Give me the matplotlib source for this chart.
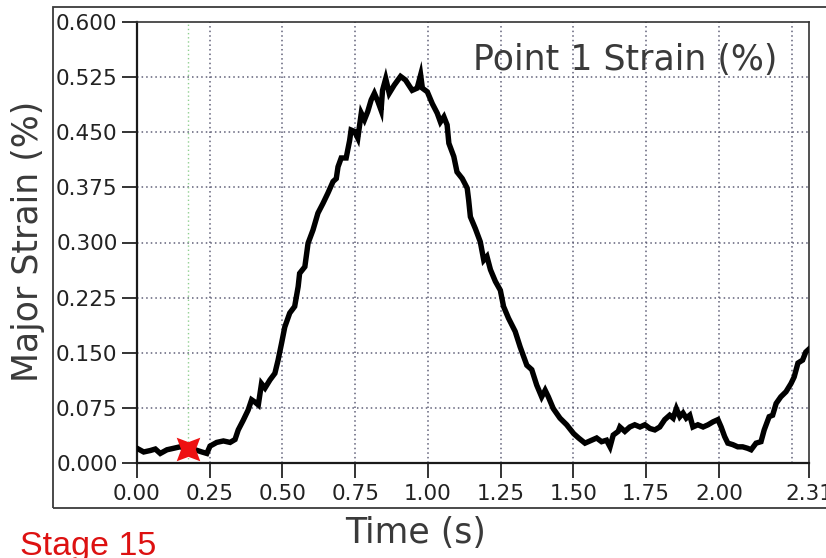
import matplotlib
matplotlib.use("Agg")
import matplotlib.pyplot as plt
from matplotlib.path import Path
from matplotlib.patches import Rectangle
from matplotlib.ticker import FixedLocator, FuncFormatter

# Major strain history of point 1
time_s = [
    0.000, 0.023, 0.046, 0.063, 0.080, 0.103, 0.126, 0.148, 0.171, 0.200,
    0.223, 0.240, 0.251, 0.274, 0.297, 0.320, 0.337, 0.348, 0.365, 0.382,
    0.394, 0.405, 0.417, 0.428, 0.440, 0.457, 0.474, 0.485, 0.497, 0.508,
    0.525, 0.542, 0.554, 0.559, 0.577, 0.588, 0.605, 0.622, 0.639, 0.656,
    0.674, 0.685, 0.691, 0.702, 0.719, 0.731, 0.736, 0.748, 0.759, 0.771,
    0.782, 0.793, 0.805, 0.816, 0.828, 0.839, 0.844, 0.855, 0.867, 0.884,
    0.906, 0.923, 0.946, 0.963, 0.975, 0.981, 0.998, 1.015, 1.032, 1.043,
    1.055, 1.066, 1.072, 1.089, 1.100, 1.118, 1.135, 1.140, 1.146, 1.163,
    1.180, 1.192, 1.203, 1.215, 1.232, 1.249, 1.260, 1.277, 1.300, 1.317,
    1.340, 1.357, 1.374, 1.391, 1.403, 1.414, 1.431, 1.454, 1.477, 1.501,
    1.518, 1.540, 1.563, 1.580, 1.597, 1.614, 1.626, 1.637, 1.654, 1.660,
    1.677, 1.694, 1.711, 1.729, 1.746, 1.763, 1.780, 1.797, 1.814, 1.831,
    1.843, 1.854, 1.866, 1.877, 1.888, 1.900, 1.911, 1.928, 1.946, 1.963,
    1.980, 1.997, 2.008, 2.020, 2.031, 2.048, 2.065, 2.082, 2.099, 2.111,
    2.128, 2.145, 2.156, 2.173, 2.185, 2.197, 2.213, 2.231, 2.248, 2.259,
    2.272, 2.288, 2.299, 2.310,
]
major_strain = [
    0.020, 0.015, 0.017, 0.019, 0.013, 0.018, 0.020, 0.022, 0.020, 0.018,
    0.015, 0.013, 0.023, 0.028, 0.030, 0.028, 0.032, 0.045, 0.058, 0.072,
    0.086, 0.083, 0.079, 0.108, 0.102, 0.113, 0.122, 0.140, 0.163, 0.185,
    0.204, 0.213, 0.240, 0.258, 0.267, 0.299, 0.317, 0.340, 0.353, 0.367,
    0.383, 0.387, 0.403, 0.415, 0.415, 0.439, 0.453, 0.451, 0.442, 0.476,
    0.467, 0.478, 0.494, 0.503, 0.492, 0.480, 0.507, 0.523, 0.503, 0.514,
    0.526, 0.521, 0.507, 0.510, 0.528, 0.510, 0.505, 0.489, 0.476, 0.464,
    0.471, 0.460, 0.435, 0.417, 0.396, 0.387, 0.374, 0.358, 0.335, 0.319,
    0.301, 0.276, 0.281, 0.263, 0.247, 0.235, 0.213, 0.197, 0.179, 0.158,
    0.133, 0.127, 0.106, 0.090, 0.099, 0.090, 0.074, 0.061, 0.052, 0.040,
    0.034, 0.027, 0.031, 0.034, 0.029, 0.031, 0.022, 0.038, 0.043, 0.049,
    0.043, 0.049, 0.052, 0.049, 0.052, 0.047, 0.045, 0.049, 0.059, 0.065,
    0.061, 0.074, 0.063, 0.068, 0.061, 0.065, 0.049, 0.052, 0.049, 0.052,
    0.056, 0.059, 0.049, 0.036, 0.027, 0.025, 0.022, 0.022, 0.020, 0.018,
    0.027, 0.029, 0.045, 0.063, 0.065, 0.081, 0.090, 0.097, 0.108, 0.117,
    0.136, 0.140, 0.151, 0.155,
]

x_ticks = [0.00, 0.25, 0.50, 0.75, 1.00, 1.25, 1.50, 1.75, 2.00, 2.31]
x_grid_extra = [2.25]
y_ticks = [0.000, 0.075, 0.150, 0.225, 0.300, 0.375, 0.450, 0.525, 0.600]

cursor_time = 0.175
cursor_strain = 0.019

title_text = "Point 1 Strain (%)"
x_label = "Time (s)"
y_label = "Major Strain (%)"
stage_text = "Stage 15"

W, H = 826, 558
fig = plt.figure(figsize=(W / 100, H / 100), dpi=100)
fig.patch.set_facecolor("white")


def fx(px):
    return px / W


def fy(py):
    return 1 - py / H


# outer panel frame
fig.add_artist(Rectangle((fx(53), fy(508)), 1.2, fy(7) - fy(508),
                         transform=fig.transFigure, fill=False,
                         edgecolor="#3a3a3a", linewidth=1.3, zorder=0))

ax = fig.add_axes([fx(137), fy(463), fx(809) - fx(137), fy(22) - fy(463)])
ax.set_xlim(0, 2.31)
ax.set_ylim(0, 0.6)

grid_kw = dict(color="#606078", linewidth=1.1, linestyle=(0, (1, 2)), zorder=1)
for t in x_ticks[1:-1] + x_grid_extra:
    ax.axvline(t, **grid_kw)
for v in y_ticks[1:-1]:
    ax.axhline(v, **grid_kw)

ax.axvline(cursor_time, color="#8fd08f", linewidth=1.0,
           linestyle=(0, (1, 2)), zorder=1)

ax.plot(time_s, major_strain, color="black", linewidth=3.9,
        solid_joinstyle="miter", zorder=3)

# four-pointed cursor star
r_in = 0.44
star = Path([(0.707, 0.707), (0, r_in), (-0.707, 0.707), (-r_in, 0),
             (-0.707, -0.707), (0, -r_in), (0.707, -0.707), (r_in, 0),
             (0.707, 0.707)],
            [Path.MOVETO] + [Path.LINETO] * 7 + [Path.CLOSEPOLY])
ax.plot([cursor_time], [cursor_strain], marker=star, markersize=17,
        color="#ee1111", markeredgewidth=0, linestyle="none", zorder=4)

ax.xaxis.set_major_locator(FixedLocator(x_ticks))
ax.yaxis.set_major_locator(FixedLocator(y_ticks))
ax.xaxis.set_major_formatter(FuncFormatter(lambda v, p: f"{v:.2f}"))
ax.yaxis.set_major_formatter(FuncFormatter(lambda v, p: f"{v:.3f}"))
ax.tick_params(axis="both", direction="out", length=11, width=1.4,
               color="#333333", labelsize=15.5, labelcolor="#222222")
ax.tick_params(axis="x", pad=4)
ax.tick_params(axis="y", pad=3)

for side in ["left", "bottom"]:
    ax.spines[side].set_linewidth(1.6)
    ax.spines[side].set_color("#1a1a1a")
for side in ["top", "right"]:
    ax.spines[side].set_linewidth(1.2)
    ax.spines[side].set_color("#333333")

fig.text(fx(473), fy(70), title_text, fontsize=25, color="#3a3a3a",
         ha="left", va="baseline")
fig.text(fx(416), fy(543), x_label, fontsize=25, color="#3a3a3a",
         ha="center", va="baseline")
fig.text(fx(28), fy(241), y_label, fontsize=25, color="#3a3a3a",
         ha="center", va="center", rotation=90)
fig.text(fx(20), fy(555), stage_text, fontsize=24.5, color="#dd1111",
         family="Liberation Sans", ha="left", va="baseline")

fig.savefig("out.png", dpi=100, facecolor="white")
